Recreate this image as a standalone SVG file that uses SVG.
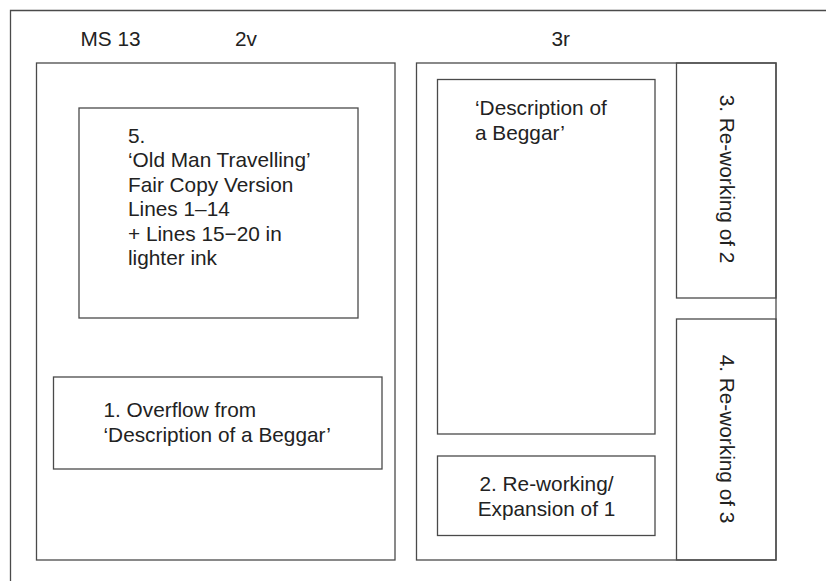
<svg xmlns="http://www.w3.org/2000/svg" width="826" height="581" viewBox="0 0 826 581">
  <style>
    .box { fill: none; stroke: #4a4a4a; stroke-width: 1.3; }
    .lbl { font-family: "Liberation Sans", Arial, Helvetica, sans-serif; font-size: 20.8px; fill: #222; }
    .mid { text-anchor: middle; }
  </style>
  <rect width="826" height="581" fill="#fff"/>

  <!-- outer frame (open to the right and bottom) -->
  <path class="box" d="M826,10.5 H10.5 V581"/>

  <!-- headings -->
  <g id="headings">
    <text class="lbl" x="80.5" y="46">MS 13</text>
    <text class="lbl" x="235" y="46">2v</text>
    <text class="lbl" x="551.5" y="46">3r</text>
  </g>

  <!-- folio 2v -->
  <g id="page-2v">
    <rect class="box" x="36.5" y="63" width="358.5" height="497"/>
  </g>
  <g id="node-5">
    <rect class="box" x="79" y="108" width="279" height="210"/>
    <text class="lbl" x="128" y="142.5">5.</text>
    <text class="lbl" x="128" y="167">‘Old Man Travelling’</text>
    <text class="lbl" x="128" y="191.5">Fair Copy Version</text>
    <text class="lbl" x="128" y="216">Lines 1–14</text>
    <text class="lbl" x="128" y="240.5">+ Lines 15−20 in</text>
    <text class="lbl" x="128" y="265">lighter ink</text>
  </g>
  <g id="node-1">
    <rect class="box" x="53.5" y="377" width="328.5" height="92"/>
    <text class="lbl" x="103.5" y="416.5">1. Overflow from</text>
    <text class="lbl" x="103.5" y="441.5">‘Description of a Beggar’</text>
  </g>

  <!-- folio 3r -->
  <g id="page-3r">
    <rect class="box" x="416.5" y="63" width="359.5" height="497"/>
  </g>
  <g id="node-beggar">
    <rect class="box" x="437.5" y="79.5" width="217.5" height="354.5"/>
    <text class="lbl" x="475" y="115">‘Description of</text>
    <text class="lbl" x="475" y="140">a Beggar’</text>
  </g>
  <g id="node-2">
    <rect class="box" x="437.5" y="456" width="217.5" height="79.5"/>
    <text class="lbl mid" x="546.5" y="490.5">2. Re-working/</text>
    <text class="lbl mid" x="546.5" y="515.5">Expansion of 1</text>
  </g>
  <g id="node-3">
    <rect class="box" x="676.5" y="63" width="99.5" height="235"/>
    <text class="lbl mid" transform="translate(720,179) rotate(90)">3. Re-working of 2</text>
  </g>
  <g id="node-4">
    <rect class="box" x="676.5" y="319" width="99.5" height="241"/>
    <text class="lbl mid" transform="translate(720,439) rotate(90)">4. Re-working of 3</text>
  </g>

  <!-- no connectors are drawn between the regions -->
  <g id="connectors"/>
</svg>
